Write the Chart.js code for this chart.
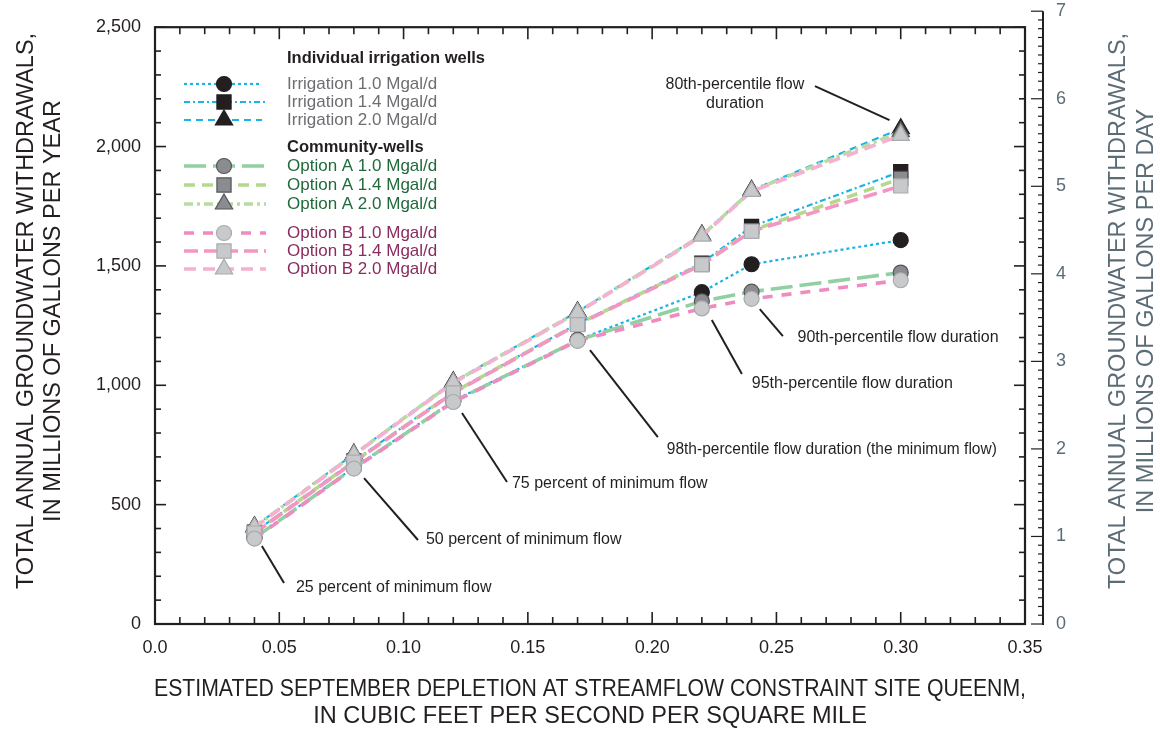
<!DOCTYPE html>
<html>
<head>
<meta charset="utf-8">
<script src="https://cdn.jsdelivr.net/npm/chart.js@4.4.1/dist/chart.umd.min.js"></script>
<style>
  html, body { margin: 0; padding: 0; background: #ffffff; }
  canvas { display: block; }
</style>
</head>
<body>
<canvas id="chart" width="1160" height="731"></canvas>
<script>
// Estimated September depletion (ft3/s/mi2) at each scenario
const depletion = [0.04, 0.08, 0.12, 0.17, 0.22, 0.24, 0.30];

// Total annual groundwater withdrawals, Mgal/yr
const irrigation10 = [362, 655, 935, 1190, 1390, 1507, 1608];
const irrigation14 = [385, 683, 972, 1258, 1512, 1665, 1895];
const irrigation20 = [408, 712, 1015, 1308, 1630, 1817, 2075];
const optionA10 = [360, 653, 932, 1188, 1352, 1392, 1472];
const optionA14 = [383, 680, 970, 1256, 1508, 1648, 1866];
const optionA20 = [406, 710, 1012, 1306, 1628, 1815, 2062];
const optionB10 = [358, 651, 930, 1186, 1322, 1362, 1440];
const optionB14 = [381, 678, 968, 1254, 1505, 1645, 1835];
const optionB20 = [404, 708, 1010, 1304, 1625, 1812, 2047];

// Axis tick values
const leftTicks = [0, 500, 1000, 1500, 2000, 2500];
const rightTicks = [0, 1, 2, 3, 4, 5, 6, 7];
const bottomTicks = [0, 0.05, 0.10, 0.15, 0.20, 0.25, 0.30, 0.35];

// Callout labels: leader line (from -> to) and text anchor, in data units
const callouts = [
  { lines: ['80th-percentile flow', 'duration'], from: [0.2955, 2111], to: [0.2655, 2253], at: [0.2333, 2261], align: 'center' },
  { lines: ['90th-percentile flow duration'], from: [0.2433, 1319], to: [0.2526, 1206], at: [0.2585, 1198], align: 'left' },
  { lines: ['95th-percentile flow duration'], from: [0.2240, 1273], to: [0.2361, 1047], at: [0.2401, 1009], align: 'left' },
  { lines: ['98th-percentile flow duration (the minimum flow)'], from: [0.1750, 1147], to: [0.2023, 783], at: [0.2059, 729], align: 'left', fit: 330 },
  { lines: ['75 percent of minimum flow'], from: [0.1235, 884], to: [0.1416, 595], at: [0.1436, 590], align: 'left' },
  { lines: ['50 percent of minimum flow'], from: [0.0841, 611], to: [0.1058, 352], at: [0.1090, 352], align: 'left' },
  { lines: ['25 percent of minimum flow'], from: [0.0430, 327], to: [0.0519, 172], at: [0.0567, 151], align: 'left' }
];

const FONT = '"Liberation Sans", Arial, sans-serif';
const INK = '#231f20';
const SLATE = '#5b6c77';

// plot frame spans 0-0.35 and 0-2,500; the right-hand Mgal/d axis reaches 7 (= 2,555 Mgal/yr)
const X_MAX = 0.35724;
const Y_MAX = 2567;

const IRR_LINE = '#19b3e6';
const IRR_MARK = { fill: '#231f20', edge: '#231f20' };
const A_MARK = { fill: '#8b8c8f', edge: '#545557' };
const B_MARK = { fill: '#c8c9cb', edge: '#a9abae' };

function series(label, values, style) {
  return Object.assign({
    label: label,
    data: depletion.map((d, i) => ({ x: d, y: values[i] })),
    fill: false,
    tension: 0,
    borderCapStyle: 'butt'
  }, style);
}

function markStyle(shape, mark) {
  const r = shape === 'circle' ? 7.5 : (shape === 'rect' ? 10 : 10);
  return { pointStyle: shape, pointRadius: r, pointBackgroundColor: mark.fill, pointBorderColor: mark.edge, pointBorderWidth: 1.2 };
}

const datasets = [
  series('Irrigation 1.0 Mgal/d', irrigation10, Object.assign({ borderColor: IRR_LINE, borderWidth: 2.2, borderDash: [3, 3], order: 3 }, markStyle('circle', IRR_MARK))),
  series('Irrigation 1.4 Mgal/d', irrigation14, Object.assign({ borderColor: IRR_LINE, borderWidth: 2.2, borderDash: [6, 3, 2, 3], order: 3 }, markStyle('rect', IRR_MARK))),
  series('Irrigation 2.0 Mgal/d', irrigation20, Object.assign({ borderColor: IRR_LINE, borderWidth: 2.2, borderDash: [7, 5], order: 3 }, markStyle('triangle', IRR_MARK))),
  series('Option A 1.0 Mgal/d', optionA10, Object.assign({ borderColor: '#90d0a2', borderWidth: 3.6, borderDash: [22, 7], order: 2 }, markStyle('circle', A_MARK))),
  series('Option A 1.4 Mgal/d', optionA14, Object.assign({ borderColor: '#b4d98a', borderWidth: 3.6, borderDash: [11, 7], order: 2 }, markStyle('rect', A_MARK))),
  series('Option A 2.0 Mgal/d', optionA20, Object.assign({ borderColor: '#b6dca2', borderWidth: 3.6, borderDash: [9, 4, 3, 4], order: 2 }, markStyle('triangle', A_MARK))),
  series('Option B 1.0 Mgal/d', optionB10, Object.assign({ borderColor: '#f08bbf', borderWidth: 3.6, borderDash: [10, 9], order: 1 }, markStyle('circle', B_MARK))),
  series('Option B 1.4 Mgal/d', optionB14, Object.assign({ borderColor: '#f396c4', borderWidth: 3.6, borderDash: [14, 6], order: 1 }, markStyle('rect', B_MARK))),
  series('Option B 2.0 Mgal/d', optionB20, Object.assign({ borderColor: '#f6b1d1', borderWidth: 3.6, borderDash: [12, 7], order: 1 }, markStyle('triangle', B_MARK)))
];

function seg(ctx, x1, y1, x2, y2) {
  ctx.beginPath(); ctx.moveTo(x1, y1); ctx.lineTo(x2, y2); ctx.stroke();
}

// Box around the plot with inward ticks, plus the separate Mgal/d axis line
const framePlugin = {
  id: 'frame',
  afterDraw(chart) {
    const ctx = chart.ctx, xs = chart.scales.x, yl = chart.scales.y, yr = chart.scales.y2;
    const L = xs.getPixelForValue(0), R = xs.getPixelForValue(0.35);
    const B = yl.getPixelForValue(0), T = yl.getPixelForValue(2500);
    ctx.save();
    ctx.strokeStyle = INK;
    ctx.lineWidth = 2.2;
    ctx.strokeRect(L, T, R - L, B - T);
    ctx.lineWidth = 1.6;
    for (let i = 0; i <= 35; i++) {
      const px = xs.getPixelForValue(i / 100);
      const len = i % 5 === 0 ? 12 : 7;
      seg(ctx, px, B, px, B - len);
      seg(ctx, px, T, px, T + len);
    }
    for (let i = 0; i <= 25; i++) {
      const py = yl.getPixelForValue(i * 100);
      const len = i % 5 === 0 ? 11 : 6;
      seg(ctx, L, py, L + len, py);
      seg(ctx, R, py, R - len, py);
    }
    const RX = chart.chartArea.right;
    ctx.lineWidth = 2;
    seg(ctx, RX, yr.getPixelForValue(0) + 1, RX, yr.getPixelForValue(7));
    ctx.lineWidth = 1.2;
    for (let i = 0; i <= 70; i++) {
      const py = yr.getPixelForValue(i / 10);
      const len = i % 10 === 0 ? 12 : 5;
      seg(ctx, RX, py, RX - len, py);
    }
    ctx.restore();
  }
};

// Axis titles
const titlePlugin = {
  id: 'titles',
  afterDraw(chart) {
    const ctx = chart.ctx;
    ctx.save();
    ctx.font = '23.5px ' + FONT;
    ctx.textAlign = 'center';
    ctx.textBaseline = 'middle';
    ctx.fillStyle = INK;
    const rot = (x, y, text) => {
      ctx.save(); ctx.translate(x, y); ctx.rotate(-Math.PI / 2); ctx.fillText(text, 0, 0); ctx.restore();
    };
    rot(27, 311, 'TOTAL ANNUAL GROUNDWATER WITHDRAWALS,');
    rot(54, 311, 'IN MILLIONS OF GALLONS PER YEAR');
    ctx.fillText('ESTIMATED SEPTEMBER DEPLETION AT STREAMFLOW CONSTRAINT SITE QUEENM,', 590, 690, 872);
    ctx.fillText('IN CUBIC FEET PER SECOND PER SQUARE MILE', 590, 717);
    ctx.fillStyle = SLATE;
    rot(1119, 311, 'TOTAL ANNUAL GROUNDWATER WITHDRAWALS,');
    rot(1147, 311, 'IN MILLIONS OF GALLONS PER DAY');
    ctx.restore();
  }
};

// Leader lines and their labels
const calloutPlugin = {
  id: 'callouts',
  afterDraw(chart) {
    const ctx = chart.ctx, xs = chart.scales.x, ys = chart.scales.y;
    ctx.save();
    ctx.strokeStyle = INK;
    ctx.lineWidth = 2;
    ctx.fillStyle = INK;
    ctx.font = '16px ' + FONT;
    ctx.textBaseline = 'middle';
    callouts.forEach(c => {
      seg(ctx, xs.getPixelForValue(c.from[0]), ys.getPixelForValue(c.from[1]),
               xs.getPixelForValue(c.to[0]), ys.getPixelForValue(c.to[1]));
      ctx.textAlign = c.align;
      const tx = xs.getPixelForValue(c.at[0]), ty = ys.getPixelForValue(c.at[1]);
      c.lines.forEach((t, k) => {
        if (c.fit) ctx.fillText(t, tx, ty + k * 19, c.fit);
        else ctx.fillText(t, tx, ty + k * 19);
      });
    });
    ctx.restore();
  }
};

// Grouped legend with section headings
const legendPlugin = {
  id: 'groupLegend',
  afterDraw(chart) {
    const ctx = chart.ctx;
    const rows = [
      { head: 'Individual irrigation wells', y: 58 },
      { ds: 0, y: 84, color: '#6d6e71', x2: 260 },
      { ds: 1, y: 102, color: '#6d6e71', x2: 266 },
      { ds: 2, y: 120, color: '#6d6e71', x2: 262 },
      { head: 'Community-wells', y: 147 },
      { ds: 3, y: 166, color: '#1f6a3b', x2: 266 },
      { ds: 4, y: 185, color: '#1f6a3b', x2: 266 },
      { ds: 5, y: 204, color: '#1f6a3b', x2: 266 },
      { ds: 6, y: 233, color: '#8a2b5f', x2: 266 },
      { ds: 7, y: 251, color: '#8a2b5f', x2: 266 },
      { ds: 8, y: 269, color: '#8a2b5f', x2: 266 }
    ];
    ctx.save();
    ctx.textAlign = 'left';
    ctx.textBaseline = 'middle';
    rows.forEach(r => {
      if (r.head) {
        ctx.font = 'bold 16.5px ' + FONT;
        ctx.fillStyle = INK;
        ctx.fillText(r.head, 287, r.y);
        return;
      }
      const d = chart.data.datasets[r.ds];
      ctx.save();
      ctx.strokeStyle = d.borderColor;
      ctx.lineWidth = d.borderWidth;
      ctx.setLineDash(d.borderDash);
      seg(ctx, 184, r.y, r.x2, r.y);
      ctx.restore();
      ctx.save();
      ctx.fillStyle = d.pointBackgroundColor;
      ctx.strokeStyle = d.pointBorderColor;
      ctx.lineWidth = d.pointBorderWidth;
      Chart.helpers.drawPoint(ctx, { pointStyle: d.pointStyle, radius: d.pointRadius, rotation: 0, borderWidth: d.pointBorderWidth }, 224, r.y);
      ctx.restore();
      ctx.font = '17px ' + FONT;
      ctx.fillStyle = r.color;
      ctx.fillText(d.label, 287, r.y);
    });
    ctx.restore();
  }
};

function fixedTicks(values) {
  return scale => { scale.ticks = values.map(v => ({ value: v })); };
}

// fixed axis band sizes; no extra room reserved for the end labels
function fixedWidth(w) {
  return s => { s.width = w; s.paddingTop = 0; s.paddingBottom = 0; };
}

const tickFont = { family: FONT, size: 18 };

new Chart(document.getElementById('chart'), {
  type: 'line',
  data: { datasets: datasets },
  options: {
    responsive: false,
    animation: false,
    events: [],
    layout: { padding: { top: 11, left: 0, right: 0, bottom: 0 } },
    plugins: { legend: { display: false }, tooltip: { enabled: false } },
    scales: {
      x: {
        type: 'linear', min: 0, max: X_MAX,
        afterBuildTicks: fixedTicks(bottomTicks),
        afterFit: s => { s.height = 107; s.paddingLeft = 0; s.paddingRight = 0; },
        grid: { display: false, drawTicks: false },
        border: { display: false },
        ticks: {
          font: tickFont, color: INK, padding: 13, maxRotation: 0, autoSkip: false,
          callback: v => (v === 0 ? '0.0' : Number(v).toFixed(2))
        }
      },
      y: {
        type: 'linear', position: 'left', min: 0, max: Y_MAX,
        afterBuildTicks: fixedTicks(leftTicks),
        afterFit: fixedWidth(155),
        grid: { display: false, drawTicks: false },
        border: { display: false },
        ticks: { font: tickFont, color: INK, padding: 14, callback: v => Number(v).toLocaleString('en-US') }
      },
      y2: {
        type: 'linear', position: 'right', min: 0, max: 7,
        afterBuildTicks: fixedTicks(rightTicks),
        afterFit: fixedWidth(117),
        grid: { display: false, drawTicks: false },
        border: { display: false },
        ticks: { font: tickFont, color: SLATE, padding: 13, callback: v => String(v) }
      }
    }
  },
  plugins: [framePlugin, titlePlugin, calloutPlugin, legendPlugin]
});
</script>
</body>
</html>
